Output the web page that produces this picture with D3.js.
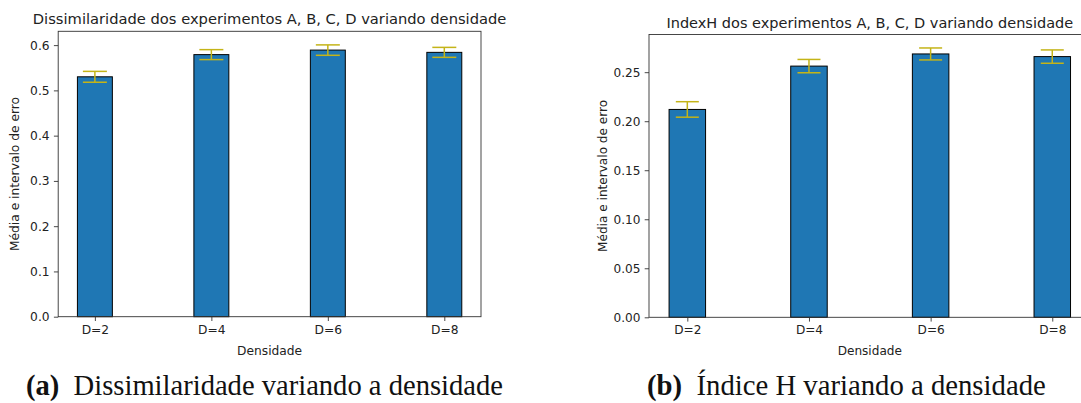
<!DOCTYPE html>
<html>
<head>
<meta charset="utf-8">
<script src="https://cdn.jsdelivr.net/npm/d3@7"></script>
<style>
    body { margin: 0; background: #fff; }
    svg { display: block; }
    .tick-label { font-family: 'DejaVu Sans', sans-serif; fill: #222; }
    .caption { font-family: 'Liberation Serif', 'DejaVu Serif', serif; fill: #111; }
</style>
</head>
<body>
<svg id="chart" width="1081" height="403"></svg>
<script>
const categories = ['D=2', 'D=4', 'D=6', 'D=8']

const dissimMeans = [0.530, 0.579, 0.589, 0.584]
const dissimErrors = [0.012, 0.011, 0.0115, 0.011]
const dissimTicks = [0.0, 0.1, 0.2, 0.3, 0.4, 0.5, 0.6]

const indexHMeans = [0.212, 0.2562, 0.2686, 0.2659]
const indexHErrors = [0.0079, 0.0068, 0.0061, 0.0068]
const indexHTicks = [0.00, 0.05, 0.10, 0.15, 0.20, 0.25]

const BAR_COLOR = '#1f77b4'
const ERR_COLOR = '#c4b418'
const BAR_WIDTH = 0.3

const svg = d3.select('#chart')

function drawPanel(opts) {
    const g = svg.append('g')
    const top = d3.max(opts.means, (d, i) => d + opts.errors[i]) * 1.05

    const x = d3.scaleLinear()
        .domain([-0.315, categories.length - 1 + 0.315])
        .range([opts.left, opts.right])
    const y = d3.scaleLinear()
        .domain([0, top])
        .range([opts.bottom, opts.top])

    // bars
    g.selectAll('.bar')
        .data(opts.means)
        .enter().append('rect')
        .attr('class', 'bar')
        .attr('x', (d, i) => x(i - BAR_WIDTH / 2))
        .attr('width', (d, i) => x(i + BAR_WIDTH / 2) - x(i - BAR_WIDTH / 2))
        .attr('y', d => y(d))
        .attr('height', d => y(0) - y(d))
        .attr('fill', BAR_COLOR)
        .attr('stroke', '#000')
        .attr('stroke-width', 1)

    // error bars
    const err = g.selectAll('.err')
        .data(opts.means)
        .enter().append('g')
        .attr('class', 'err')
        .attr('stroke', ERR_COLOR)
        .attr('stroke-width', 1.5)
    err.append('line')
        .attr('x1', (d, i) => x(i)).attr('x2', (d, i) => x(i))
        .attr('y1', (d, i) => y(d - opts.errors[i]))
        .attr('y2', (d, i) => y(d + opts.errors[i]))
    err.append('line')
        .attr('x1', (d, i) => x(i) - opts.cap).attr('x2', (d, i) => x(i) + opts.cap)
        .attr('y1', (d, i) => y(d + opts.errors[i]))
        .attr('y2', (d, i) => y(d + opts.errors[i]))
    err.append('line')
        .attr('x1', (d, i) => x(i) - opts.cap).attr('x2', (d, i) => x(i) + opts.cap)
        .attr('y1', (d, i) => y(d - opts.errors[i]))
        .attr('y2', (d, i) => y(d - opts.errors[i]))

    // axes
    const yAxis = d3.axisLeft(y)
        .tickValues(opts.ticks)
        .tickFormat(d3.format(opts.format))
        .tickSize(4.3)
        .tickPadding(4.3)
    const xAxis = d3.axisBottom(x)
        .tickValues(d3.range(categories.length))
        .tickFormat(i => categories[i])
        .tickSize(4.3)
        .tickPadding(4.3)

    const ya = g.append('g')
        .attr('transform', `translate(${opts.left},0)`)
        .call(yAxis)
    const xa = g.append('g')
        .attr('transform', `translate(0,${opts.bottom})`)
        .call(xAxis)
    ;[ya, xa].forEach(a => {
        a.select('.domain').remove()
        a.selectAll('line').attr('stroke', '#333').attr('stroke-width', 0.9)
        a.selectAll('text')
            .attr('class', 'tick-label')
            .style('font-size', opts.font + 'px')
    })

    // frame
    g.append('rect')
        .attr('x', opts.left)
        .attr('y', opts.top)
        .attr('width', opts.right - opts.left)
        .attr('height', opts.bottom - opts.top)
        .attr('fill', 'none')
        .attr('stroke', '#333')
        .attr('stroke-width', 0.9)

    // title
    g.append('text')
        .attr('class', 'tick-label')
        .attr('x', (opts.left + opts.right) / 2)
        .attr('y', opts.top - 7)
        .attr('text-anchor', 'middle')
        .style('font-size', opts.titleFont + 'px')
        .text(opts.title)

    // labels
    g.append('text')
        .attr('class', 'tick-label')
        .attr('x', (opts.left + opts.right) / 2)
        .attr('y', opts.bottom + 38)
        .attr('text-anchor', 'middle')
        .style('font-size', opts.font + 'px')
        .text('Densidade')

    g.append('text')
        .attr('class', 'tick-label')
        .attr('transform', `translate(${opts.left - opts.ylabelOffset},${(opts.top + opts.bottom) / 2}) rotate(-90)`)
        .attr('text-anchor', 'middle')
        .style('font-size', opts.font + 'px')
        .text('Média e intervalo de erro')

    // caption, sized to fit the measured width
    const cap = svg.append('text')
        .attr('class', 'caption')
        .attr('x', opts.capLeft)
        .attr('y', 395)
        .style('font-size', '100px')
    cap.append('tspan').attr('font-weight', 'bold').text(opts.capTag)
    cap.append('tspan').text('\u2002' + opts.caption)
    const w = cap.node().getComputedTextLength()
    cap.style('font-size', (100 * (opts.capRight - opts.capLeft) / w) + 'px')
}

drawPanel({
    means: dissimMeans, errors: dissimErrors, ticks: dissimTicks, format: '.1f',
    left: 58.2, right: 481, top: 31.3, bottom: 316.7,
    cap: 12, font: 12.25, titleFont: 14.7, ylabelOffset: 39,
    title: 'Dissimilaridade dos experimentos A, B, C, D variando densidade',
    capTag: '(a)', caption: 'Dissimilaridade variando a densidade', capLeft: 26, capRight: 503
})

drawPanel({
    means: indexHMeans, errors: indexHErrors, ticks: indexHTicks, format: '.2f',
    left: 649, right: 1090.6, top: 34.5, bottom: 317.3,
    cap: 11.5, font: 12.1, titleFont: 14.5, ylabelOffset: 42,
    title: 'IndexH dos experimentos A, B, C, D variando densidade',
    capTag: '(b)', caption: 'Índice H variando a densidade', capLeft: 647, capRight: 1046
})
</script>
</body>
</html>
